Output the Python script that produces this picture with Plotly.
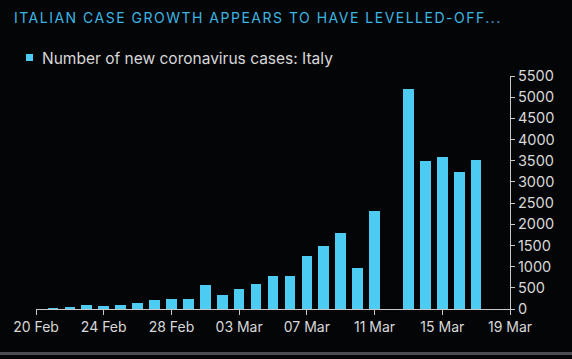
import plotly.graph_objects as go

# ---- data ----
dates = ["2020-02-21", "2020-02-22", "2020-02-23", "2020-02-24", "2020-02-25",
         "2020-02-26", "2020-02-27", "2020-02-28", "2020-02-29", "2020-03-01",
         "2020-03-02", "2020-03-03", "2020-03-04", "2020-03-05", "2020-03-06",
         "2020-03-07", "2020-03-08", "2020-03-09", "2020-03-10", "2020-03-11",
         "2020-03-12", "2020-03-13", "2020-03-14", "2020-03-15", "2020-03-16",
         "2020-03-17"]
new_cases = [17, 42, 93, 74, 93, 131, 202, 233, 240, 566, 342, 466, 587, 769,
             778, 1247, 1492, 1797, 977, 2313, None, 5198, 3497, 3590, 3233, 3526]
x_tick_vals = ["2020-02-20", "2020-02-24", "2020-02-28", "2020-03-03",
               "2020-03-07", "2020-03-11", "2020-03-15", "2020-03-19"]
x_tick_text = ["20 Feb", "24 Feb", "28 Feb", "03 Mar", "07 Mar", "11 Mar",
               "15 Mar", "19 Mar"]
y_tick_vals = list(range(0, 5501, 500))
series_name = "Number of new coronavirus cases: Italy"
title_text = "ITALIAN CASE GROWTH APPEARS TO HAVE LEVELLED-OFF..."

# ---- layout geometry (pixels) ----
W, H = 572, 359
L, R, T, B = 36, 510, 76, 309
pw, ph = R - L, B - T
def px(x):
    return (x - L) / pw
def py(y):
    return (B - y) / ph

BAR = "#4ccbf3"
BG = "#040507"
AXIS = "#c8c8c8"
TXT = "#d8d8d8"
FONT = "Inter, Liberation Sans, Arial, sans-serif"

fig = go.Figure()
fig.add_trace(go.Bar(
    x=dates, y=new_cases, name=series_name,
    marker=dict(color=BAR, line=dict(width=0)),
    width=0.63 * 86400000,
    showlegend=False,
))

fig.update_layout(
    width=W, height=H,
    margin=dict(l=L, r=W - R, t=T, b=H - B, pad=0),
    paper_bgcolor=BG, plot_bgcolor=BG,
    font=dict(family=FONT, color=TXT, size=14),
    bargap=0,
    xaxis=dict(
        type="date",
        range=["2020-02-20", "2020-03-19"],
        tickvals=x_tick_vals, ticktext=x_tick_text,
        showgrid=False, zeroline=False,
        showline=True, linecolor=AXIS, linewidth=1,
        ticks="outside", ticklen=5, tickcolor=AXIS, tickwidth=1,
        tickfont=dict(size=14, color=TXT),
    ),
    yaxis=dict(
        side="right",
        range=[0, 5500],
        tickvals=y_tick_vals,
        showgrid=False, zeroline=False,
        showline=True, linecolor=AXIS, linewidth=1,
        ticks="outside", ticklen=4, tickcolor=AXIS, tickwidth=1,
        tickfont=dict(size=14.5, color=TXT),
    ),
    annotations=[
        dict(text=title_text, xref="paper", yref="paper",
             x=px(12), y=py(17), xanchor="left", yanchor="middle",
             showarrow=False,
             font=dict(size=14, color="#3db6e4", family=FONT)),
        dict(text=series_name, xref="paper", yref="paper",
             x=px(40), y=py(58.5), xanchor="left", yanchor="middle",
             showarrow=False,
             font=dict(size=15.5, color=TXT, family=FONT)),
    ],
    shapes=[
        dict(type="rect", xref="paper", yref="paper",
             x0=px(26), x1=px(33), y0=py(61), y1=py(54),
             fillcolor=BAR, line=dict(width=0)),
        dict(type="rect", xref="paper", yref="paper",
             x0=px(0), x1=px(W), y0=py(355), y1=py(352),
             fillcolor="#4a4d52", line=dict(width=0)),
    ],
)

post = (
    "document.body.style.margin='0';"
    "document.body.style.background='#040507';"
    "var t=document.querySelectorAll('g.annotation text')[0];"
    "if(t){var b0=t.getBBox();t.style.letterSpacing='1.5px';"
    "var b1=t.getBBox();"
    "t.setAttribute('x',parseFloat(t.getAttribute('x')||0)+(b0.x-b1.x));}"
)
fig.write_html("out.html", config={"displayModeBar": False}, post_script=post)
